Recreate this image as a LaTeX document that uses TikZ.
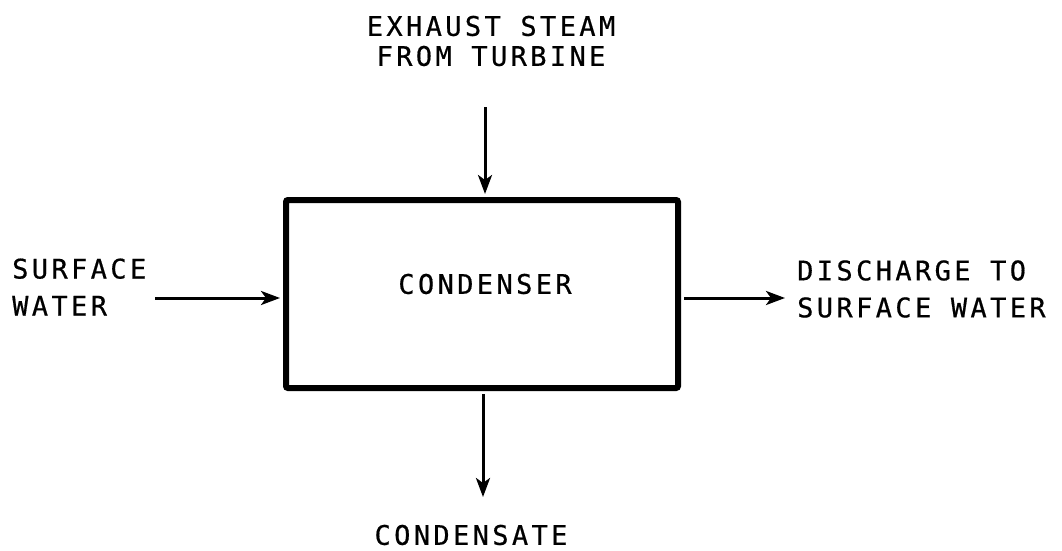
\documentclass[tikz,border=0pt]{standalone}
\usepackage{fontspec}
\newfontfamily\lblfont[LetterSpace=12.5,FakeBold=0.6]{DejaVu Sans Mono}
\usetikzlibrary{arrows.meta}
\begin{document}
\begin{tikzpicture}[x=1pt,y=-1pt,
  lbl/.style={font=\lblfont\fontsize{27}{37}\selectfont, inner sep=0pt},
  flow/.style={line width=3pt, -{Stealth[length=19pt,width=14pt,inset=5pt]}},
  unit/.style={draw, line width=6pt, rounded corners=2pt, minimum width=392pt, minimum height=188pt, inner sep=0pt}]
\useasboundingbox (0,0) rectangle (1062,551);
\node[unit] (cond) at (482,294) {};
\node[lbl] (condlbl) at (485,284) {CONDENSER};
\node[lbl, align=center, font=\lblfont\fontsize{27}{30}\selectfont] (steam) at (491,41) {EXHAUST STEAM\\FROM TURBINE};
\node[lbl, align=left, anchor=west] (sw) at (12,287) {SURFACE\\WATER};
\node[lbl, align=left, anchor=west] (dis) at (797,289) {DISCHARGE TO\\SURFACE WATER};
\node[lbl] (cdst) at (471,535) {CONDENSATE};
\coordinate (tin) at (485,107);
\coordinate (lin) at (155,298);
\coordinate (bout) at (483,497);
\coordinate (rout) at (785,298);
\draw[flow, shorten >=3pt] (tin) -- (tin |- cond.north);
\draw[flow, shorten >=3pt] (lin) -- (lin -| cond.west);
\draw[flow, shorten <=3pt] (bout |- cond.south) -- (bout);
\draw[flow, shorten <=3pt] (rout -| cond.east) -- (rout);
\end{tikzpicture}
\end{document}
